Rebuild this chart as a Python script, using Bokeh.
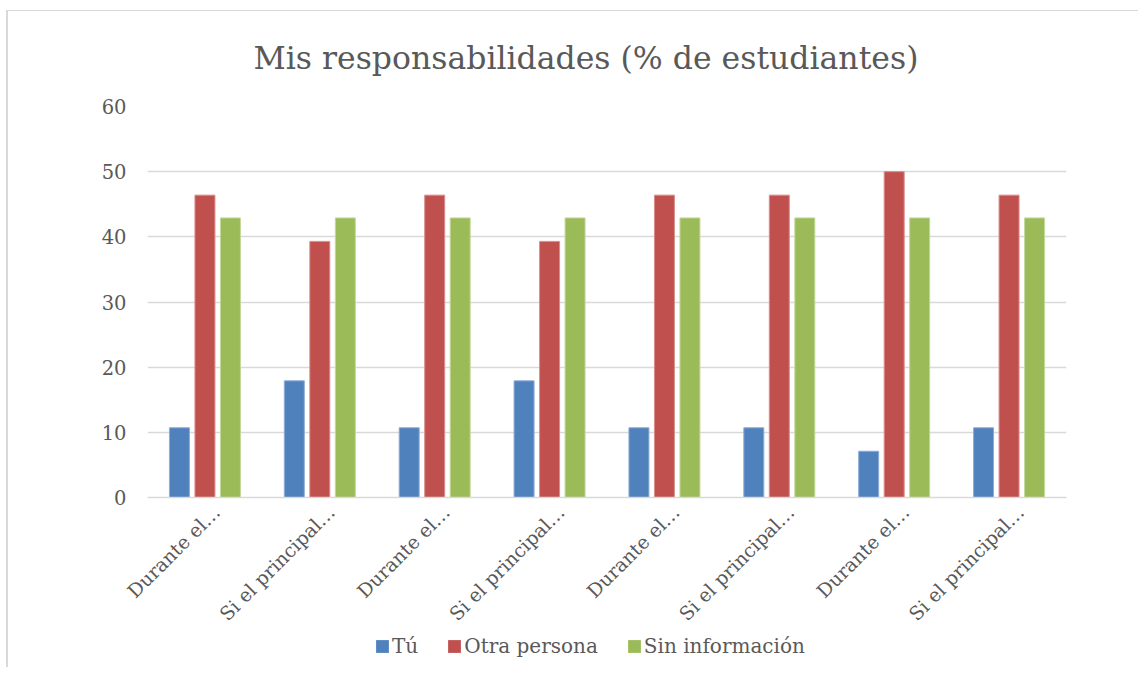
import math
import numpy as np
from bokeh.plotting import figure
from bokeh.layouts import column
from bokeh.models import (ColumnDataSource, Legend, LegendItem, Title, FixedTicker, Range1d,
                          CustomJSTickFormatter)
from bokeh.embed import file_html
from bokeh.resources import INLINE

# ---- data ----
categories = ["Durante el…", "Si el principal…", "Durante el…", "Si el principal…",
              "Durante el…", "Si el principal…", "Durante el…", "Si el principal…"]
series_names = ["Tú", "Otra persona", "Sin información"]
tu = [10.7, 17.9, 10.7, 17.9, 10.7, 10.7, 7.1, 10.7]
otra_persona = [46.4, 39.3, 46.4, 39.3, 46.4, 46.4, 50.0, 46.4]
sin_informacion = [42.9, 42.9, 42.9, 42.9, 42.9, 42.9, 42.9, 42.9]
y_ticks = [0, 10, 20, 30, 40, 50, 60]
title_text = "Mis responsabilidades (% de estudiantes)"

colors = ["#4F81BD", "#C0504D", "#9BBB59"]
edge = ["#8DACD6", "#D98E8C", "#C3D89B"]
FONT = "DejaVu Serif"
TXT = "#595959"

W = 1138
H_MAIN, H_LEG = 635, 32
p = figure(width=W, height=H_MAIN, output_backend="svg", toolbar_location=None,
           x_range=Range1d(-0.5, len(categories) - 0.5), y_range=Range1d(0, 60),
           min_border_left=147, min_border_right=72, min_border_top=106,
           min_border_bottom=H_MAIN - 497)
p.border_fill_color = None
p.background_fill_color = "white"
p.outline_line_color = None

idx = np.arange(len(categories))
offsets = [-0.222, 0.0, 0.222]
renderers = []
for vals, off, c, e in zip([tu, otra_persona, sin_informacion], offsets, colors, edge):
    src = ColumnDataSource(dict(x=idx + off, top=vals))
    r = p.vbar(x="x", top="top", width=0.174, bottom=0, source=src,
               fill_color=c, line_color=e, line_width=1)
    renderers.append(r)

# axes (category labels sit slightly right of the group centre, as in the original)
label_shift = 0.1
p.xaxis.ticker = FixedTicker(ticks=[i + label_shift for i in range(len(categories))])
p.xaxis.formatter = CustomJSTickFormatter(args=dict(labels=categories),
                                          code="return labels[Math.round(tick)] || '';")
p.xaxis.major_label_orientation = math.pi / 4
p.xaxis.major_tick_line_color = None
p.xaxis.minor_tick_line_color = None
p.xaxis.axis_line_color = "#d9d9d9"
p.xaxis.axis_line_width = 1.3
p.xaxis.major_label_text_font = FONT
p.xaxis.major_label_text_font_size = "19px"
p.xaxis.major_label_text_color = TXT
p.xaxis.major_label_standoff = 5

p.yaxis.ticker = FixedTicker(ticks=y_ticks)
p.yaxis.major_tick_line_color = None
p.yaxis.minor_tick_line_color = None
p.yaxis.axis_line_color = None
p.yaxis.major_label_text_font = FONT
p.yaxis.major_label_text_font_size = "19.5px"
p.yaxis.major_label_text_color = TXT
p.yaxis.major_label_standoff = 15

p.xgrid.grid_line_color = None
p.ygrid.grid_line_color = "#d9d9d9"
p.ygrid.grid_line_width = 1.3

# title
p.add_layout(Title(text=title_text, align="left", offset=106, standoff=61,
                   text_font=FONT, text_font_size="31.5px", text_font_style="normal",
                   text_color=TXT), "above")

# legend strip (a small figure underneath, holding the legend)
lf = figure(width=W, height=H_LEG, output_backend="svg", toolbar_location=None,
            x_range=Range1d(0, 1), y_range=Range1d(0, 1), x_axis_type=None, y_axis_type=None,
            min_border=0, min_border_left=0, min_border_right=0, min_border_top=0,
            min_border_bottom=0)
lf.border_fill_color = None
lf.background_fill_color = None
lf.outline_line_color = None
lf.xgrid.visible = False
lf.ygrid.visible = False
leg_r = []
for c in colors:
    # zero-height swatch carriers: nothing visible is drawn, they only give the legend its colours
    leg_r.append(lf.vbar(x=[0.5], top=[0], bottom=[0], width=0.01,
                         fill_color=c, line_color=None))
legend = Legend(items=[LegendItem(label=n, renderers=[r]) for n, r in zip(series_names, leg_r)],
                orientation="horizontal", location=(227, 9),
                glyph_width=16, glyph_height=16, label_standoff=2, spacing=28,
                label_height=20, padding=0, margin=0, border_line_color=None,
                background_fill_alpha=0,
                label_text_font=FONT, label_text_font_size="20px", label_text_color=TXT)
lf.add_layout(legend, "center")

layout = column(p, lf, spacing=0)
layout.styles = {"background": "linear-gradient(#d9d9d9,#d9d9d9) 6px 10px / 2px 100% no-repeat, "
                               "linear-gradient(#d9d9d9,#d9d9d9) 6px 10px / 100% 1px no-repeat, #ffffff"}

open("out.html", "w").write(file_html(layout, INLINE))
